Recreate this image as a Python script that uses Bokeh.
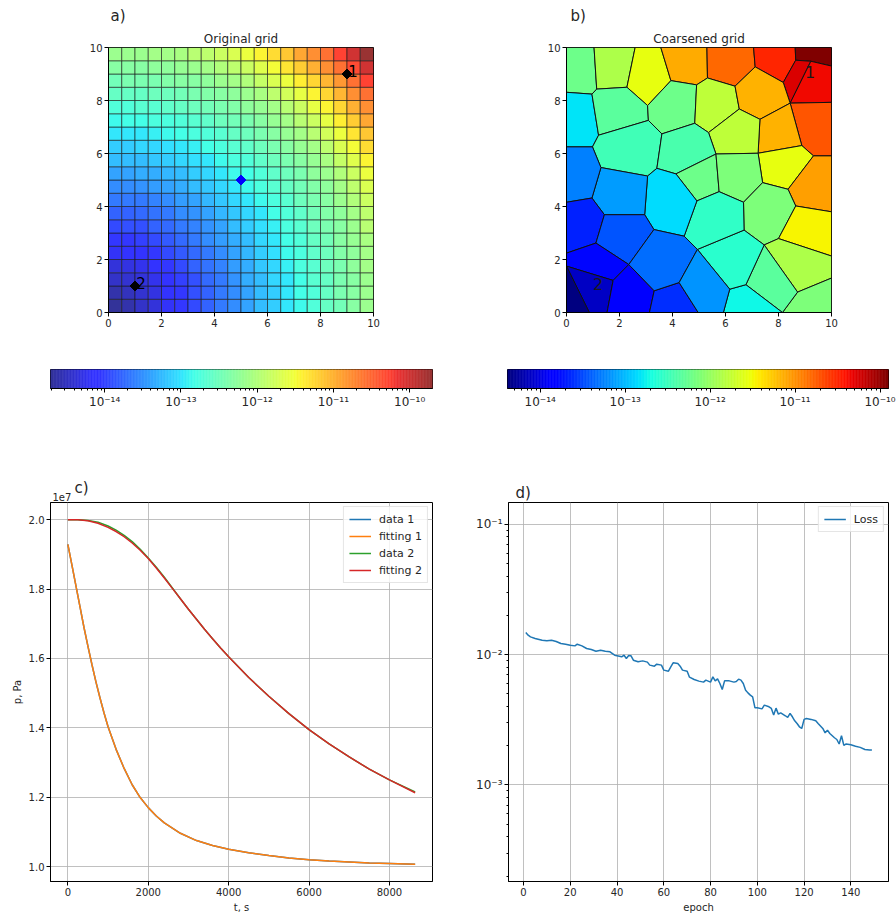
import numpy as np
from bokeh.plotting import figure
from bokeh.layouts import column, row
from bokeh.models import (Range1d, FixedTicker, Title, LinearColorMapper,
                          ColumnDataSource, CustomJSTickFormatter, PrintfTickFormatter)
from bokeh.core.properties import value
from bokeh.transform import transform
from bokeh.embed import file_html
from bokeh.resources import INLINE

FONT = "DejaVu Sans"
TXT = "#262626"

# ---------------------------------------------------------------- data
# a) original 20x20 grid: position of each cell inside the log10(k) span, in %
#    (rows from bottom y=0 to top y=10, columns from x=0 to x=10)
GRID_PCT = [
    [2, 4, 7, 9, 12, 15, 17, 20, 23, 25, 28, 31, 33, 36, 38, 41, 44, 46, 49, 52],
    [4, 6, 8, 10, 13, 15, 18, 20, 23, 25, 28, 31, 33, 36, 39, 41, 44, 47, 49, 52],
    [7, 8, 9, 11, 14, 16, 18, 21, 23, 26, 29, 31, 34, 36, 39, 42, 44, 47, 49, 52],
    [9, 10, 11, 13, 15, 17, 20, 22, 24, 27, 29, 32, 34, 37, 40, 42, 45, 47, 50, 53],
    [12, 13, 14, 15, 17, 19, 21, 23, 25, 28, 30, 33, 35, 38, 40, 43, 45, 48, 50, 53],
    [15, 15, 16, 17, 19, 21, 23, 25, 27, 29, 31, 34, 36, 39, 41, 44, 46, 49, 51, 54],
    [17, 18, 18, 20, 21, 23, 24, 26, 28, 31, 33, 35, 37, 40, 42, 45, 47, 49, 52, 56],
    [20, 20, 21, 22, 23, 25, 26, 28, 30, 32, 34, 36, 39, 41, 43, 46, 48, 50, 53, 57],
    [23, 23, 23, 24, 25, 27, 28, 30, 32, 34, 36, 38, 40, 42, 45, 47, 49, 52, 55, 59],
    [25, 25, 26, 27, 28, 29, 31, 32, 34, 36, 38, 40, 42, 44, 46, 48, 50, 53, 57, 61],
    [28, 28, 29, 29, 30, 31, 33, 34, 36, 38, 39, 41, 43, 45, 47, 50, 52, 55, 59, 64],
    [31, 31, 31, 32, 33, 34, 35, 36, 38, 40, 41, 43, 45, 47, 49, 51, 54, 58, 62, 66],
    [33, 33, 34, 34, 35, 36, 37, 39, 40, 42, 43, 45, 47, 49, 51, 53, 57, 61, 65, 69],
    [36, 36, 36, 37, 38, 39, 40, 41, 42, 44, 45, 47, 49, 51, 53, 56, 60, 64, 68, 72],
    [38, 39, 39, 40, 40, 41, 42, 43, 45, 46, 47, 49, 51, 53, 56, 59, 63, 67, 71, 76],
    [41, 41, 42, 42, 43, 44, 45, 46, 47, 48, 50, 51, 53, 56, 59, 63, 66, 70, 75, 79],
    [44, 44, 44, 45, 45, 46, 47, 48, 49, 50, 52, 54, 57, 60, 63, 66, 70, 74, 79, 83],
    [46, 47, 47, 47, 48, 49, 49, 50, 52, 53, 55, 58, 61, 64, 67, 70, 74, 78, 83, 89],
    [49, 49, 49, 50, 50, 51, 52, 53, 55, 57, 59, 62, 65, 68, 71, 75, 79, 83, 88, 94],
    [52, 52, 52, 53, 53, 54, 56, 57, 59, 61, 64, 66, 69, 72, 76, 79, 83, 89, 94, 100],
]
GRID_CELL = 0.5
LOGK_A_MIN, LOGK_A_MAX = -14.71, -9.70
LOGK_B_MIN, LOGK_B_MAX = -14.385, -9.90

WELL_X = [9, 1]
WELL_Y = [9, 1]
WELL_LABEL = ["1", "2"]
CENTER_X = [5]
CENTER_Y = [5]

# b) coarsened (Voronoi) grid: vertices and cells
VOR_ID = ["C00", "C10", "C01", "C11",
          "T1", "T2", "T3", "T4", "T5", "T6",
          "L1", "L2", "L3", "L4", "L5",
          "B1", "B2", "B3", "B4", "B5", "B6",
          "R1", "R2", "R3", "R4", "R5", "R6",
          "V1", "V2", "V3", "V4", "V5", "V6", "V7", "V8", "V9", "V10",
          "V11", "V12", "V13", "V14", "V15", "V16", "V17", "V18", "V19", "V20",
          "V22", "V23", "V24", "V25", "V26", "V27", "V28", "V29", "V30", "V31",
          "V32", "V34", "V35", "V36", "V37", "V38", "V39", "V40", "V42", "V43",
          "V44", "V45", "V47", "V48", "V49", "V50", "V51", "V52", "V53", "V54",
          "V56", "V57"]
VOR_X = [0, 10, 0, 10,
         1.04, 2.59, 3.56, 5.30, 7.06, 8.63,
         0, 0, 0, 0, 0,
         0.86, 1.53, 3.13, 4.97, 5.92, 8.15,
         10, 10, 10, 10, 10, 10,
         1.14, 0.96, 2.28, 3.06, 3.94, 4.91, 5.32, 6.36, 7.12, 8.18,
         8.65, 9.22, 8.44, 1.21, 0.98, 3.09, 4.84, 3.60, 6.52, 5.36,
         7.30, 9.32, 8.88, 7.23, 5.64, 8.36, 7.40, 8.65, 3.41, 3.06,
         1.30, 4.13, 5.76, 4.92, 6.68, 8.00, 7.46, 6.70, 8.72, 6.77,
         6.16, 4.94, 4.44, 3.30, 2.95, 1.43, 0.96, 1.11, 2.35, 1.76,
         3.31, 4.25]
VOR_Y = [0, 0, 10, 10,
         10, 10, 10, 10, 10, 10,
         8.31, 6.25, 4.16, 2.24, 1.75,
         0, 0, 0, 0, 0, 0,
         9.30, 7.93, 5.91, 3.80, 2.13, 1.30,
         8.43, 8.24, 8.50, 7.81, 8.75, 8.59, 8.85, 8.54, 9.27, 8.68,
         9.52, 9.48, 7.90, 6.69, 6.25, 7.25, 7.14, 6.74, 7.68, 6.79,
         7.29, 5.91, 6.30, 6.01, 5.98, 4.65, 4.90, 4.02, 5.44, 5.15,
         5.47, 5.23, 4.56, 4.21, 4.16, 2.79, 2.55, 3.11, 0.77, 1.05,
         0.88, 2.38, 2.88, 3.13, 3.69, 3.69, 4.32, 2.62, 1.81, 1.21,
         0.82, 1.13]
VOR_CELLS = [
    ["C01", "T1", "V1", "V2", "L1"],
    ["T1", "T2", "V3", "V1"],
    ["T2", "T3", "V5", "V4", "V3"],
    ["T3", "T4", "V7", "V6", "V5"],
    ["T4", "T5", "V9", "V8", "V7"],
    ["T5", "T6", "V11", "V10", "V9"],
    ["T6", "C11", "R1", "V12", "V11"],
    ["V11", "V12", "V13", "V10"],
    ["V12", "R1", "R2", "V13"],
    ["L1", "V2", "V14", "V15", "L2"],
    ["V2", "V1", "V3", "V4", "V16", "V14"],
    ["V4", "V5", "V6", "V17", "V18", "V16"],
    ["V6", "V7", "V8", "V19", "V20", "V17"],
    ["V8", "V9", "V10", "V13", "V22", "V19"],
    ["V13", "R2", "R3", "V23", "V24"],
    ["V22", "V13", "V24", "V25"],
    ["V19", "V22", "V25", "V26", "V20"],
    ["V25", "V24", "V23", "V27", "V28"],
    ["V23", "R3", "R4", "V29", "V27"],
    ["V14", "V16", "V18", "V30", "V31", "V32", "V15"],
    ["V18", "V17", "V20", "V26", "V34", "V30"],
    ["V26", "V35", "V36", "V34"],
    ["V26", "V25", "V28", "V37", "V35"],
    ["V28", "V27", "V29", "V38", "V39", "V40", "V37"],
    ["V29", "R4", "R5", "V38"],
    ["V38", "R5", "R6", "V42", "V39"],
    ["V42", "R6", "C10", "B6"],
    ["V39", "V42", "B6", "V43"],
    ["V44", "V43", "B6", "B5"],
    ["V40", "V39", "V43", "V44", "V45"],
    ["V36", "V35", "V37", "V40", "V45", "V47"],
    ["V31", "V30", "V34", "V36", "V47", "V48", "V49"],
    ["V32", "V31", "V49", "V50", "V51"],
    ["L2", "V15", "V32", "V51", "L3"],
    ["L3", "V51", "V50", "V52", "L4"],
    ["V50", "V49", "V48", "V53", "V52"],
    ["L4", "V52", "V53", "V54", "L5"],
    ["L5", "V54", "B2", "B1"],
    ["L5", "B1", "C00"],
    ["V54", "V53", "V56", "B3", "B2"],
    ["V56", "V57", "B4", "B3"],
    ["V53", "V48", "V47", "V45", "V57", "V56"],
    ["V57", "V45", "V44", "B5", "B4"],
]
VOR_LOGK = [-12.23, -11.87, -11.56, -11.11, -10.80, -10.48, -9.90, -10.26, -10.35,
            -12.82, -12.32, -12.23, -11.78, -11.16, -10.71, -11.16, -11.78, -11.56,
            -11.07, -12.46, -12.41, -12.23, -12.14, -12.14, -11.47, -11.87, -12.14,
            -12.32, -12.73, -12.59, -12.55, -12.86, -13.13, -13.26, -13.67, -13.44,
            -13.80, -14.12, -14.385, -13.85, -13.62, -13.35, -13.17]

# c) pressure curves (units of 1e7 Pa)
T_1 = [0, 100, 200, 300, 400, 500, 600, 700, 800, 900, 1000, 1200, 1400, 1600, 1800,
       2000, 2200, 2400, 2800, 3200, 3600, 4000, 4500, 5000, 5500, 6000, 6500, 7000,
       7500, 8000, 8640]
P_DATA1 = [1.929, 1.870, 1.810, 1.750, 1.690, 1.635, 1.582, 1.532, 1.486, 1.443, 1.403,
           1.338, 1.283, 1.236, 1.199, 1.170, 1.146, 1.126, 1.096, 1.075, 1.061, 1.050,
           1.040, 1.032, 1.025, 1.020, 1.016, 1.013, 1.010, 1.009, 1.007]
P_FIT1 = [1.929, 1.870, 1.810, 1.750, 1.690, 1.635, 1.582, 1.532, 1.486, 1.443, 1.403,
          1.338, 1.283, 1.236, 1.199, 1.170, 1.146, 1.126, 1.096, 1.075, 1.061, 1.050,
          1.040, 1.032, 1.025, 1.020, 1.016, 1.013, 1.010, 1.009, 1.007]
T_2 = [0, 250, 500, 750, 1000, 1200, 1400, 1600, 1800, 2000, 2200, 2400, 2600, 2800,
       3000, 3200, 3400, 3600, 3800, 4000, 4500, 5000, 5500, 6000, 6500, 7000, 7500,
       8000, 8640]
P_DATA2 = [2.000, 2.000, 1.998, 1.993, 1.982, 1.970, 1.955, 1.937, 1.915, 1.890, 1.863,
           1.834, 1.803, 1.772, 1.742, 1.713, 1.684, 1.657, 1.630, 1.605, 1.545, 1.491,
           1.441, 1.395, 1.354, 1.316, 1.281, 1.250, 1.215]
P_FIT2 = [2.000, 2.000, 1.997, 1.990, 1.978, 1.966, 1.951, 1.933, 1.912, 1.888, 1.861,
          1.832, 1.802, 1.772, 1.742, 1.713, 1.684, 1.657, 1.630, 1.605, 1.545, 1.491,
          1.441, 1.395, 1.354, 1.316, 1.281, 1.250, 1.213]

# d) training loss (units of 1e-2)
EPOCH = [1, 2, 3, 5, 8, 10, 12, 14, 16, 18, 20, 22, 23, 25, 27, 29, 31, 33, 35, 37,
         39, 41, 42, 43, 44, 45, 46, 47, 49, 51, 53, 54, 56, 57, 59, 60, 62, 63, 64,
         66, 67, 68, 70, 71, 73, 75, 77, 78, 80, 81, 82, 83, 84, 85, 86, 88, 90, 91,
         92, 93, 94, 95, 96, 97, 98, 99, 100, 102, 103, 105, 106, 107, 108, 109, 110,
         112, 113, 114, 115, 116, 117, 118, 119, 120, 121, 123, 125, 126, 128, 129,
         130, 131, 133, 134, 135, 136, 137, 138, 140, 142, 144, 146, 148, 149]
LOSS_E2 = [1.474, 1.406, 1.365, 1.326, 1.288, 1.273, 1.288, 1.258, 1.214, 1.200, 1.179,
           1.165, 1.200, 1.165, 1.112, 1.092, 1.060, 1.080, 1.060, 1.048, 0.988, 0.971,
           0.960, 0.988, 0.932, 0.982, 0.977, 0.905, 0.879, 0.894, 0.874, 0.829, 0.814,
           0.843, 0.829, 0.759, 0.745, 0.804, 0.863, 0.853, 0.814, 0.759, 0.745, 0.670,
           0.643, 0.625, 0.614, 0.636, 0.614, 0.674, 0.628, 0.651, 0.599, 0.539, 0.628,
           0.628, 0.614, 0.621, 0.647, 0.636, 0.599, 0.533, 0.508, 0.488, 0.474, 0.390,
           0.390, 0.383, 0.409, 0.397, 0.386, 0.343, 0.388, 0.349, 0.357, 0.339, 0.329,
           0.353, 0.333, 0.310, 0.296, 0.279, 0.271, 0.318, 0.323, 0.318, 0.310, 0.296,
           0.271, 0.251, 0.263, 0.248, 0.230, 0.223, 0.206, 0.238, 0.201, 0.206, 0.203,
           0.198, 0.194, 0.187, 0.185, 0.185]

DECADES = [-14, -13, -12, -11, -10]


# ---------------------------------------------------------------- helpers
def jet_palette(alpha):
    pos = np.linspace(0, 1, 256)
    r = np.interp(pos, [0, 0.35, 0.66, 0.89, 1], [0, 0, 1, 1, 0.5])
    g = np.interp(pos, [0, 0.125, 0.375, 0.64, 0.91, 1], [0, 0, 1, 1, 0, 0])
    b = np.interp(pos, [0, 0.11, 0.34, 0.65, 1], [0.5, 1, 1, 0, 0])
    rgb = alpha * np.stack([r, g, b], 1) + (1 - alpha)
    return ["#%02x%02x%02x" % tuple(int(round(c * 255)) for c in col) for col in rgb]


PAL_A = jet_palette(0.8)
PAL_B = jet_palette(1.0)

SUP_JS = r"""
const sup = {"-": "\u207b", "0": "\u2070", "1": "\u00b9", "2": "\u00b2", "3": "\u00b3",
             "4": "\u2074", "5": "\u2075", "6": "\u2076", "7": "\u2077", "8": "\u2078",
             "9": "\u2079"};
const e = Math.round(Math.log10(tick));
return "10" + String(e).split("").map(c => sup[c]).join("");
"""


def style_axis(ax, minor=False, size="10px"):
    ax.axis_line_color = "black"
    ax.major_tick_line_color = "black"
    ax.major_tick_in = 0
    ax.major_tick_out = 4
    ax.minor_tick_in = 0
    ax.minor_tick_out = 2
    ax.minor_tick_line_color = "black" if minor else None
    ax.major_label_text_font = FONT
    ax.major_label_text_font_size = size
    ax.major_label_text_color = TXT
    ax.major_label_standoff = 2
    ax.axis_label_text_font = FONT
    ax.axis_label_text_font_size = "10px"
    ax.axis_label_text_font_style = "normal"
    ax.axis_label_text_color = TXT
    ax.axis_label_standoff = 3


def title(text, align, offset, standoff, size):
    return Title(text=text, align=align, offset=offset, standoff=standoff,
                 text_font=FONT, text_font_size=size, text_font_style="normal",
                 text_color=TXT)


def base_fig(**kw):
    p = figure(toolbar_location=None, output_backend="svg", title=None, **kw)
    p.outline_line_color = "black"
    p.outline_line_width = 1
    return p


# ---------------------------------------------------------------- a) original grid
grid = np.array(GRID_PCT, dtype=float)
pct_min, pct_max = grid.min(), grid.max()
logk_a = LOGK_A_MIN + (grid - pct_min) / (pct_max - pct_min) * (LOGK_A_MAX - LOGK_A_MIN)
n = grid.shape[0]
cx = [(i + 0.5) * GRID_CELL for j in range(n) for i in range(n)]
cy = [(j + 0.5) * GRID_CELL for j in range(n) for i in range(n)]
src_a = ColumnDataSource(dict(x=cx, y=cy, logk=logk_a.ravel().tolist()))
mapper_a = LinearColorMapper(palette=PAL_A, low=LOGK_A_MIN, high=LOGK_A_MAX)

pa = base_fig(frame_width=265, frame_height=265, min_border_left=108, min_border_right=75,
              min_border_top=47, min_border_bottom=38,
              x_range=Range1d(0, 10), y_range=Range1d(0, 10))
pa.rect(x="x", y="y", width=GRID_CELL, height=GRID_CELL, source=src_a,
        fill_color=transform("logk", mapper_a), line_color="#1a1a1a", line_width=0.6)
pa.scatter(WELL_X, WELL_Y, marker="square", angle=np.pi / 4, size=7, color="black")
pa.scatter(CENTER_X, CENTER_Y, marker="square", angle=np.pi / 4, size=7, color="#0000ff")
pa.text([x + 0.05 for x in WELL_X], [y - 0.12 for y in WELL_Y], text=WELL_LABEL,
        text_font=value(FONT), text_font_size="15px", text_color="black",
        text_align="left", text_baseline="bottom")
pa.add_layout(title("Original grid", "center", 0, 4, "12px"), "above")
pa.add_layout(title("a)", "left", 2, 5, "15px"), "above")

# ---------------------------------------------------------------- b) coarsened grid
vid = {k: i for i, k in enumerate(VOR_ID)}
xs = [[VOR_X[vid[k]] for k in cell] for cell in VOR_CELLS]
ys = [[VOR_Y[vid[k]] for k in cell] for cell in VOR_CELLS]
src_b = ColumnDataSource(dict(xs=xs, ys=ys, logk=VOR_LOGK))
mapper_b = LinearColorMapper(palette=PAL_B, low=LOGK_B_MIN, high=LOGK_B_MAX)

pb = base_fig(frame_width=265, frame_height=265, min_border_left=118, min_border_right=65,
              min_border_top=47, min_border_bottom=38,
              x_range=Range1d(0, 10), y_range=Range1d(0, 10))
pb.patches(xs="xs", ys="ys", source=src_b, fill_color=transform("logk", mapper_b),
           line_color="#111111", line_width=1)
pb.text([x + 0.0 for x in WELL_X], [y - 0.15 for y in WELL_Y], text=WELL_LABEL,
        text_font=value(FONT), text_font_size="16px", text_color="#1a1a1a",
        text_align="left", text_baseline="bottom")
pb.add_layout(title("Coarsened grid", "center", 0, 4, "12px"), "above")
pb.add_layout(title("b)", "left", 4, 5, "15px"), "above")

for p in (pa, pb):
    p.grid.visible = False
    for ax in p.axis:
        style_axis(ax)
        ax.ticker = FixedTicker(ticks=[0, 2, 4, 6, 8, 10])


# ---------------------------------------------------------------- colour bars
def colorbar(lo, hi, pal, left, fw, right):
    p = base_fig(frame_width=fw, frame_height=19, min_border_left=left,
                 min_border_right=right, min_border_top=19, min_border_bottom=82,
                 x_axis_type="log", x_range=Range1d(10 ** lo, 10 ** hi),
                 y_range=Range1d(0, 1), y_axis_location=None)
    edges = 10 ** np.linspace(lo, hi, len(pal) + 1)
    p.quad(left=edges[:-1], right=edges[1:], bottom=0, top=1,
           fill_color=pal, line_color=pal, line_width=0.6)
    p.grid.visible = False
    ax = p.xaxis[0]
    style_axis(ax, minor=True, size="12px")
    ax.ticker = FixedTicker(ticks=[10.0 ** e for e in DECADES],
                            minor_ticks=[m * 10.0 ** e for e in range(-15, -9)
                                         for m in range(2, 10)])
    ax.formatter = CustomJSTickFormatter(code=SUP_JS)
    return p


cba = colorbar(LOGK_A_MIN, LOGK_A_MAX, PAL_A, 50, 382, 16)
cbb = colorbar(LOGK_B_MIN, LOGK_B_MAX, PAL_B, 59, 381, 8)

# ---------------------------------------------------------------- c) pressure
pc = base_fig(frame_width=382, frame_height=379, min_border_left=50, min_border_right=16,
              min_border_top=32, min_border_bottom=35,
              x_range=Range1d(-432, 9072), y_range=Range1d(0.957, 2.0497))
pc.line(T_1, P_DATA1, color="#1f77b4", line_width=1.5, legend_label="data 1")
pc.line(T_1, P_FIT1, color="#ff7f0e", line_width=1.5, legend_label="fitting 1")
pc.line(T_2, P_DATA2, color="#2ca02c", line_width=1.5, legend_label="data 2")
pc.line(T_2, P_FIT2, color="#d62728", line_width=1.5, legend_label="fitting 2")
xt = FixedTicker(ticks=[0, 2000, 4000, 6000, 8000])
yt = FixedTicker(ticks=[1.0, 1.2, 1.4, 1.6, 1.8, 2.0])
pc.xaxis.ticker = xt
pc.xgrid.ticker = xt
pc.yaxis.ticker = yt
pc.ygrid.ticker = yt
pc.yaxis.formatter = PrintfTickFormatter(format="%.1f")
pc.xaxis.axis_label = "t, s"
pc.yaxis.axis_label = "p, Pa"
pc.add_layout(title("1e7", "left", 2, 3, "10px"), "above")
t_c = title("c)", "left", 24, 0, "15px")
try:
    t_c.standoff = -14
except Exception:
    pass
pc.add_layout(t_c, "above")

# ---------------------------------------------------------------- d) loss
pd_ = base_fig(frame_width=380, frame_height=379, min_border_left=60, min_border_right=8,
               min_border_top=32, min_border_bottom=35, y_axis_type="log",
               x_range=Range1d(-6.4, 156.1), y_range=Range1d(10 ** -3.741, 10 ** -0.834))
pd_.line(EPOCH, [v * 1e-2 for v in LOSS_E2], color="#1f77b4", line_width=1.5,
         legend_label="Loss")
xt2 = FixedTicker(ticks=list(range(0, 141, 20)))
yt2 = FixedTicker(ticks=[1e-3, 1e-2, 1e-1],
                  minor_ticks=[m * 10.0 ** e for e in range(-4, 0) for m in range(2, 10)])
pd_.xaxis.ticker = xt2
pd_.xgrid.ticker = xt2
pd_.yaxis.ticker = yt2
pd_.ygrid.ticker = FixedTicker(ticks=[1e-3, 1e-2, 1e-1])
pd_.yaxis.formatter = CustomJSTickFormatter(code=SUP_JS)
pd_.xaxis.axis_label = "epoch"
pd_.add_layout(title("d)", "left", 7, 2, "15px"), "above")

for p in (pc, pd_):
    for ax in p.xaxis:
        style_axis(ax)
    for ax in p.yaxis:
        style_axis(ax, minor=(p is pd_), size=("12px" if p is pd_ else "10px"))
    p.grid.grid_line_color = "#b0b0b0"
    p.grid.grid_line_width = 0.8
    lg = p.legend[0]
    lg.location = "top_right"
    lg.margin = 4
    lg.padding = 5
    lg.spacing = 3
    lg.glyph_width = 22
    lg.glyph_height = 14
    lg.label_height = 14
    lg.label_standoff = 8
    lg.label_text_font = FONT
    lg.label_text_font_size = "11px"
    lg.label_text_color = TXT
    lg.border_line_color = "#cccccc"
    lg.border_line_width = 1
    lg.background_fill_alpha = 0.8

layout = column(row(pa, pb), row(cba, cbb), row(pc, pd_))
open("out.html", "w").write(file_html(layout, INLINE))
